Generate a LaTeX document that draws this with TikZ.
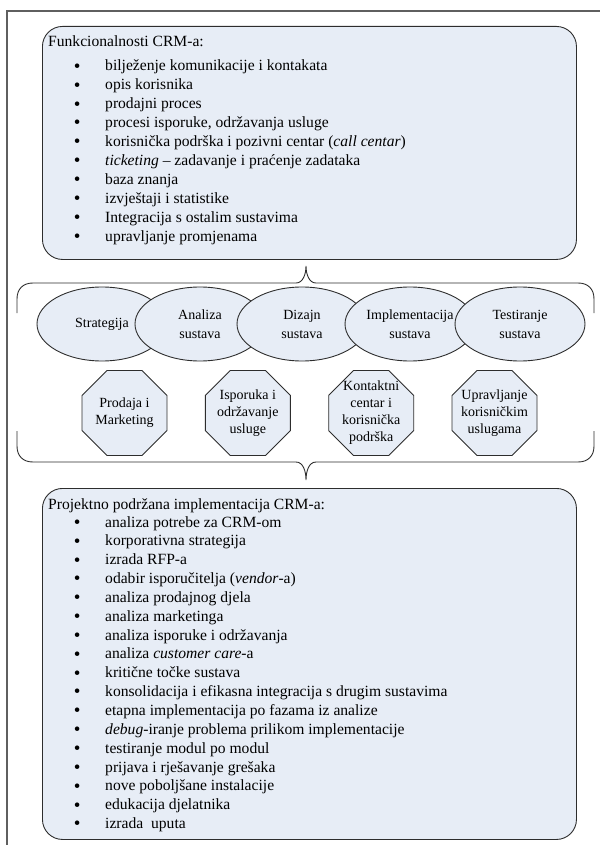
\documentclass[tikz,border=0pt]{standalone}
\usepackage{fontspec}
\setmainfont{Liberation Serif}
\usetikzlibrary{shapes.geometric}
\definecolor{boxfill}{RGB}{231,237,246}
\definecolor{edge}{RGB}{45,45,45}
\definecolor{framec}{RGB}{95,95,95}
\newcommand{\bul}{\makebox[31.3pt][l]{\raisebox{-1.3pt}{\fontsize{19}{19}\selectfont\textbullet}}}
\begin{document}
\begin{tikzpicture}[x=1pt,y=-1pt,
  panel/.style={draw=edge, fill=boxfill, line width=0.9pt, rounded corners=20pt, inner sep=0pt, anchor=north west},
  listtext/.style={anchor=base west, inner sep=0pt, font=\fontsize{15.6}{18.9}\selectfont},
  phase/.style={ellipse, draw=edge, fill=boxfill, line width=0.9pt, minimum width=130pt, minimum height=74pt, inner sep=0pt, align=center, font=\fontsize{14}{19}\selectfont},
  octa/.style={regular polygon, regular polygon sides=8, draw=edge, fill=boxfill, line width=0.9pt, minimum size=92pt, inner sep=0pt},
  octatext/.style={align=center, inner sep=0pt, font=\fontsize{14}{17}\selectfont},
  bracket/.style={draw=edge, line width=0.9pt},
  framel/.style={draw=framec, line width=1.5pt}
]
\useasboundingbox (0,0) rectangle (600,845);

% frame
\draw[framel] (7,845) -- (7,11) -- (600,11);

% top panel
\node[panel, minimum width=534pt, minimum height=233pt] (topbox) at (42,26) {};
\node[listtext] (ftitle) at (48,47) {Funkcionalnosti CRM-a:};
\foreach \t [count=\i] in {
  {bilježenje komunikacije i kontakata},
  {opis korisnika},
  {prodajni proces},
  {procesi isporuke, održavanja usluge},
  {korisnička podrška i pozivni centar (\textit{call centar})},
  {\textit{ticketing} – zadavanje i praćenje zadataka},
  {baza znanja},
  {izvještaji i statistike},
  {Integracija s ostalim sustavima},
  {upravljanje promjenama}}
{\node[listtext] (fa\i) at (73.7,{71+(\i-1)*18.9}) {\bul\t};}

% upper brace
\draw[bracket] (17,313) -- (17,299) .. controls (17,289) and (23,283) .. (33,283) -- (296,283)
  .. controls (303,283) and (306,274) .. (306,266)
  .. controls (306,274) and (309,283) .. (316,283) -- (578,283)
  .. controls (588,283) and (594,289) .. (594,299) -- (594,313);

% phases
\node[phase] (e1) at (102,324) {Strategija};
\node[phase] (e2) at (200,324) {Analiza\\sustava};
\node[phase] (e3) at (302,324) {Dizajn\\sustava};
\node[phase] (e4) at (410,324) {Implementacija\\sustava};
\node[phase] (e5) at (520,324) {Testiranje\\sustava};

% areas
\node[octa] (o1) at (124.5,413) {};
\node[octatext] (o1t) at (o1) {Prodaja i\\Marketing};
\node[octa] (o2) at (247.8,413) {};
\node[octatext] (o2t) at (o2) {Isporuka i\\održavanje\\usluge};
\node[octa] (o3) at (371.2,413) {};
\node[octatext] (o3t) at (o3) {Kontaktni\\centar i\\korisnička\\podrška};
\node[octa] (o4) at (494.5,413) {};
\node[octatext] (o4t) at (o4) {Upravljanje\\korisničkim\\uslugama};

% lower brace
\draw[bracket] (17,431) -- (17,446) .. controls (17,456) and (23,462) .. (33,462) -- (296,462)
  .. controls (303,462) and (306,471) .. (306,480)
  .. controls (306,471) and (309,462) .. (316,462) -- (578,462)
  .. controls (588,462) and (594,456) .. (594,446) -- (594,431);

% bottom panel
\node[panel, minimum width=534pt, minimum height=351pt] (botbox) at (42,488) {};
\node[listtext] (ptitle) at (48,509) {Projektno podržana implementacija CRM-a:};
\foreach \t [count=\i] in {
  {analiza potrebe za CRM-om},
  {korporativna strategija},
  {izrada RFP-a},
  {odabir isporučitelja (\textit{vendor}-a)},
  {analiza prodajnog djela},
  {analiza marketinga},
  {analiza isporuke i održavanja},
  {analiza \textit{customer care}-a},
  {kritične točke sustava},
  {konsolidacija i efikasna integracija s drugim sustavima},
  {etapna implementacija po fazama iz analize},
  {\textit{debug}-iranje problema prilikom implementacije},
  {testiranje modul po modul},
  {prijava i rješavanje grešaka},
  {nove poboljšane instalacije},
  {edukacija djelatnika},
  {izrada\ \ uputa}}
{\node[listtext] (pa\i) at (73.7,{527+(\i-1)*18.85}) {\bul\t};}
\end{tikzpicture}
\end{document}
